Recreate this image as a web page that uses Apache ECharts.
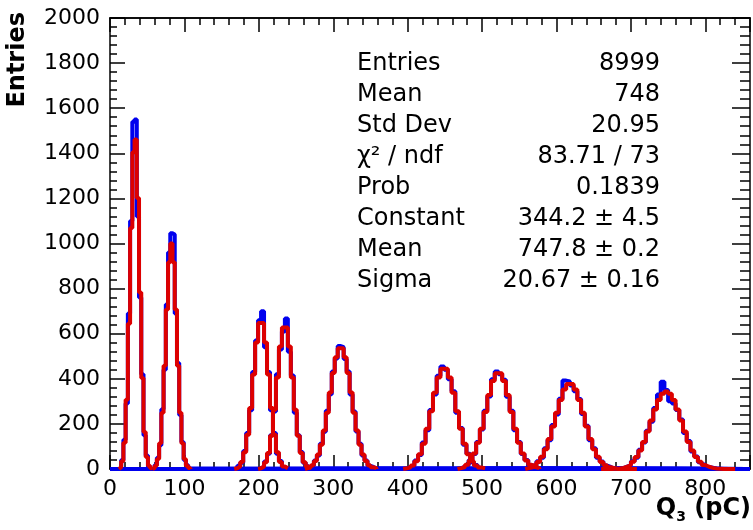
<!DOCTYPE html>
<html><head><meta charset="utf-8">
<script src="https://cdn.jsdelivr.net/npm/echarts@6/dist/echarts.min.js"></script>
<style>html,body{margin:0;padding:0;background:#fff}#c{width:753px;height:530px}</style>
</head><body><div id="c"></div>
<script>
// ---- axis ranges / ticks ----
const xRange = [0, 860];
const yRange = [0, 2000];
const xMajor = 100, xMinor = 20, yMajor = 200;

// ---- histogram binning (per peak) ----
const binWidth  = [3, 3, 4, 4, 4, 5, 5, 5, 5];
const histStart = [12, 57, 167, 199, 262, 394, 467, 558, 675];
const fitStart  = [12, 57, 167, 199, 262, 394, 467, 558, 660];

// ---- blue histograms (entries per bin) ----
const blue1 = [5, 40, 130, 290, 690, 1100, 1540, 1550, 1120, 760, 420, 150, 60, 10, 0];
const blue2 = [3, 18, 50, 105, 265, 440, 730, 960, 1045, 1040, 690, 470, 240, 120, 40, 18, 2];
const blue3 = [2, 14, 28, 80, 160, 260, 430, 570, 660, 700, 540, 430, 260, 160, 68, 35, 9, 2];
const blue4 = [4, 9, 33, 68, 150, 255, 420, 530, 610, 667, 520, 415, 250, 150, 75, 28, 12, 2];
const blue5 = [3, 10, 15, 38, 60, 112, 165, 258, 332, 432, 490, 545, 540, 488, 432, 330, 255, 166, 112, 60, 38, 14, 9, 3];
const blue6 = [2, 9, 14, 38, 62, 118, 172, 262, 330, 414, 455, 440, 398, 345, 250, 182, 108, 68, 30, 18, 5, 4];
const blue7 = [3, 11, 17, 40, 66, 120, 175, 258, 322, 398, 432, 420, 396, 320, 258, 172, 120, 66, 40, 17, 10, 3];
const blue8 = [3, 10, 15, 34, 50, 92, 128, 195, 242, 312, 392, 388, 370, 345, 310, 244, 192, 128, 92, 50, 33, 15, 9, 2];
const blue9 = [1, 3, 4, 11, 17, 34, 50, 85, 118, 170, 210, 270, 330, 387, 350, 300, 290, 262, 220, 160, 124, 78, 55, 30, 20, 9, 6, 2, 1];

// ---- red fit curves (value per bin) ----
const red1 = [8, 34, 116, 307, 644, 1069, 1405, 1461, 1202, 783, 403, 164, 53, 14, 3];
const red2 = [4, 14, 44, 114, 249, 458, 707, 917, 1000, 917, 707, 458, 249, 114, 44, 14, 4];
const red3 = [3, 11, 31, 74, 152, 271, 419, 561, 648, 648, 561, 419, 271, 152, 74, 31, 11, 3];
const red4 = [3, 11, 30, 71, 147, 263, 406, 543, 628, 628, 543, 406, 263, 147, 71, 30, 11, 3];
const red5 = [4, 8, 17, 35, 64, 108, 171, 250, 339, 426, 496, 535, 535, 496, 426, 339, 250, 171, 108, 64, 35, 17, 8, 4];
const red6 = [3, 7, 16, 34, 65, 112, 178, 256, 338, 406, 445, 445, 406, 338, 256, 178, 112, 65, 34, 16, 7, 3];
const red7 = [4, 9, 19, 38, 69, 116, 179, 253, 328, 390, 425, 425, 390, 328, 253, 179, 116, 69, 38, 19, 9, 4];
const red8 = [4, 8, 17, 31, 54, 88, 133, 188, 249, 306, 352, 377, 377, 352, 306, 249, 188, 133, 88, 54, 31, 17, 8, 4, 0, 0, 0, 0, 0, 0];
const red9 = [0, 0, 0, 1, 2, 5, 10, 18, 32, 53, 82, 120, 166, 215, 264, 306, 334, 344, 334, 306, 264, 215, 166, 120, 82, 53, 32, 18, 10, 5, 2, 1, 0, 0, 0, 0];

// ---- texts ----
const statLabels = ['Entries', 'Mean', 'Std Dev', 'χ² / ndf', 'Prob', 'Constant', 'Mean', 'Sigma'];
const statValues = ['8999', '748', '20.95', '83.71 / 73', '0.1839', '344.2 ± 4.5', '747.8 ± 0.2', '20.67 ± 0.16'];
const yTitle = 'Entries';

const blues = [blue1, blue2, blue3, blue4, blue5, blue6, blue7, blue8, blue9];
const reds = [red1, red2, red3, red4, red5, red6, red7, red8, red9];

function stepPoints(start, w, counts, pad) {
  const pts = [];
  if (pad) pts.push([xRange[0], 0]);
  pts.push([start, 0]);
  counts.forEach((c, i) => { pts.push([start + i * w, c]); pts.push([start + (i + 1) * w, c]); });
  const end = start + counts.length * w;
  pts.push([end, 0]);
  if (pad) pts.push([xRange[1], 0]);
  return pts;
}

const FONT = '"DejaVu Sans", sans-serif';
const series = [];
blues.forEach((b, i) => series.push({
  type: 'line', data: stepPoints(histStart[i], binWidth[i], b, true), symbol: 'none',
  lineStyle: { color: '#0000ee', width: 4 }, z: 2, clip: true, silent: true
}));
reds.forEach((r, i) => series.push({
  type: 'line', data: stepPoints(fitStart[i], binWidth[i], r, false), symbol: 'none',
  lineStyle: { color: '#dd0000', width: 4 }, z: 3, clip: true, silent: true
}));

const lineCol = { color: '#000', width: 1.5 };
function xAx(pos, interval, len, labels) {
  return {
    type: 'value', gridIndex: 0, position: pos, min: xRange[0], max: xRange[1], interval: interval,
    axisLine: { show: true, onZero: false, lineStyle: lineCol },
    axisTick: { show: true, inside: true, length: len, lineStyle: lineCol },
    axisLabel: labels ? { show: true, margin: 9, fontFamily: FONT, fontSize: 22, color: '#000',
      formatter: v => (v % xMajor === 0 ? String(v) : '') } : { show: false },
    splitLine: { show: false }
  };
}
function yAx(pos, len, mlen, labels) {
  return {
    type: 'value', gridIndex: 0, position: pos, min: yRange[0], max: yRange[1], interval: yMajor,
    axisLine: { show: true, onZero: false, lineStyle: lineCol },
    axisTick: { show: true, inside: true, length: len, lineStyle: lineCol },
    minorTick: { show: true, splitNumber: 5, length: mlen, lineStyle: lineCol },
    axisLabel: labels ? { show: true, margin: 10, fontFamily: FONT, fontSize: 22, color: '#000',
      formatter: v => String(v) } : { show: false },
    splitLine: { show: false }, minorSplitLine: { show: false }
  };
}

const chart = echarts.init(document.getElementById('c'), null, { renderer: 'canvas' });
chart.setOption({
  animation: false,
  backgroundColor: '#fff',
  grid: { left: 110, top: 18, right: 1, bottom: 61, containLabel: false },
  xAxis: [xAx('bottom', xMajor, 14, true), xAx('bottom', xMinor, 7, false),
          xAx('top', xMajor, 14, false), xAx('top', xMinor, 7, false)],
  yAxis: [yAx('left', 15, 7, true), yAx('right', 18, 10, false)],
  series: series,
  graphic: [
    { type: 'text', x: 357, y: 48, silent: true,
      style: { text: statLabels.join('\n'), font: '24px ' + FONT, fill: '#000', lineHeight: 31.1, align: 'left', verticalAlign: 'top' } },
    { type: 'text', x: 660, y: 48, silent: true,
      style: { text: statValues.join('\n'), font: '24px ' + FONT, fill: '#000', lineHeight: 31.1, align: 'right', verticalAlign: 'top' } },
    { type: 'text', x: 18, y: 12, rotation: Math.PI / 2, silent: true,
      style: { text: yTitle, font: 'bold 24px ' + FONT, fill: '#000', align: 'right', verticalAlign: 'middle' } },
    { type: 'text', x: 751, y: 509, silent: true,
      style: { text: '{a|Q}{s|3}{a| (pC)}', align: 'right', verticalAlign: 'middle', fill: '#000',
        rich: { a: { font: 'bold 24px ' + FONT, lineHeight: 30 },
                s: { font: 'bold 14px ' + FONT, lineHeight: 14, verticalAlign: 'bottom' } } } }
  ]
});
</script></body></html>
